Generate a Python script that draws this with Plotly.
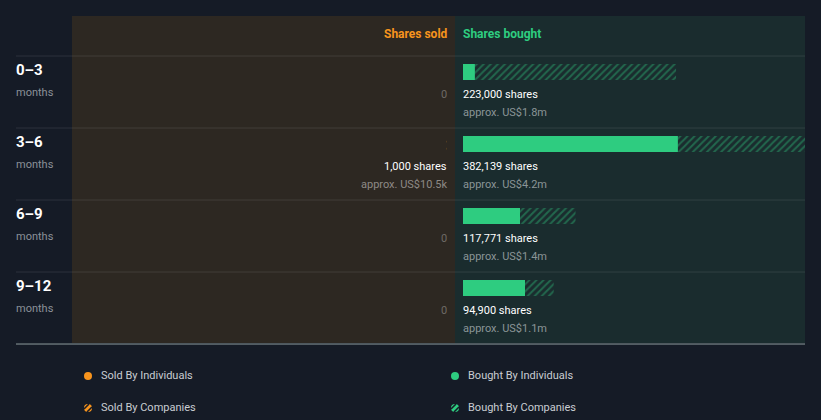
import plotly.graph_objects as go

W, H = 821, 420

periods = ["0–3", "3–6", "6–9", "9–12"]
period_unit = "months"
bought_individuals = [12500, 225000, 59700, 65000]
bought_companies = [210500, 157139, 58071, 29900]
bought_labels = ["223,000 shares", "382,139 shares", "117,771 shares", "94,900 shares"]
bought_values = ["approx. US$1.8m", "approx. US$4.2m", "approx. US$1.4m", "approx. US$1.1m"]
sold_individuals = [0, 0, 0, 0]
sold_companies = [0, 1000, 0, 0]
sold_labels = ["0", "1,000 shares", "0", "0"]
sold_values = ["", "approx. US$10.5k", "", ""]
legend_labels = ["Sold By Individuals", "Bought By Individuals", "Sold By Companies", "Bought By Companies"]

BG = "#151b26"
SOLD_BG = "#2d2822"
BOUGHT_BG = "#1a2c2e"
ORANGE = "#f7941d"
GREEN = "#2ecc80"
GREEN_HATCH = "#2aa36c"
ORANGE_HATCH = "#c47a1c"
FONT = "Roboto"

def px(p):
    return p / W

def py(p):
    return 1 - p / H

idx = list(range(len(periods)))
fig = go.Figure()

# bought bars
fig.add_trace(go.Bar(y=idx, x=bought_individuals, orientation="h", width=0.222,
                     marker=dict(color=GREEN, line=dict(width=0)), xaxis="x", yaxis="y",
                     showlegend=False, hoverinfo="skip"))
fig.add_trace(go.Bar(y=idx, x=bought_companies, base=bought_individuals, orientation="h", width=0.222,
                     marker=dict(color=BOUGHT_BG, line=dict(width=0),
                                 pattern=dict(shape="/", fgcolor=GREEN_HATCH, bgcolor=BOUGHT_BG,
                                              size=5, solidity=0.4)),
                     xaxis="x", yaxis="y", showlegend=False, hoverinfo="skip"))
# sold bars
fig.add_trace(go.Bar(y=idx, x=sold_individuals, orientation="h", width=0.222,
                     marker=dict(color=ORANGE, line=dict(width=0)), xaxis="x2", yaxis="y",
                     showlegend=False, hoverinfo="skip"))
fig.add_trace(go.Bar(y=idx, x=sold_companies, base=sold_individuals, orientation="h", width=0.222,
                     marker=dict(color=SOLD_BG, line=dict(width=0),
                                 pattern=dict(shape="/", fgcolor=ORANGE_HATCH, bgcolor=SOLD_BG,
                                              size=5, solidity=0.15)),
                     xaxis="x2", yaxis="y", showlegend=False, hoverinfo="skip"))

shapes = []
# panels
shapes.append(dict(type="rect", xref="paper", yref="paper", x0=px(72), x1=px(455), y0=py(343), y1=py(16),
                   fillcolor=SOLD_BG, line=dict(width=0), layer="below"))
shapes.append(dict(type="rect", xref="paper", yref="paper", x0=px(455), x1=px(805), y0=py(343), y1=py(16),
                   fillcolor=BOUGHT_BG, line=dict(width=0), layer="below"))
# row separators
for i in range(len(periods) + 1):
    last = i == len(periods)
    shapes.append(dict(type="line", xref="paper", yref="y", x0=px(16), x1=px(805),
                       y0=i - 0.222, y1=i - 0.222,
                       line=dict(color="#8d9a9c" if last else "rgba(255,255,255,0.1)", width=1),
                       layer="above"))

annotations = []
annotations.append(dict(text="<b>Shares sold</b>", xref="paper", yref="paper", x=px(447), y=py(34),
                        xanchor="right", yanchor="middle", showarrow=False, xshift=3,
                        font=dict(family=FONT, size=12, color=ORANGE)))
annotations.append(dict(text="<b>Shares bought</b>", xref="paper", yref="paper", x=px(463), y=py(34),
                        xanchor="left", yanchor="middle", showarrow=False, xshift=-2,
                        font=dict(family=FONT, size=12, color=GREEN)))

for i in idx:
    annotations.append(dict(text="<b>" + periods[i] + "</b>", xref="paper", yref="y", x=px(16), y=i - 0.028,
                            xanchor="left", yanchor="middle", showarrow=False, xshift=-2,
                            font=dict(family=FONT, size=15, color="#ffffff")))
    annotations.append(dict(text=period_unit, xref="paper", yref="y", x=px(16), y=i + 0.278,
                            xanchor="left", yanchor="middle", showarrow=False, xshift=-2,
                            font=dict(family=FONT, size=11, color="#8b9199")))
    annotations.append(dict(text=bought_labels[i], xref="x", yref="y", x=0, y=i + 0.306,
                            xanchor="left", yanchor="middle", showarrow=False, xshift=-2,
                            font=dict(family=FONT, size=11, color="#ffffff")))
    annotations.append(dict(text=bought_values[i], xref="x", yref="y", x=0, y=i + 0.556,
                            xanchor="left", yanchor="middle", showarrow=False, xshift=-2,
                            font=dict(family=FONT, size=11, color="#8a9597")))
    sold_total = sold_individuals[i] + sold_companies[i]
    annotations.append(dict(text=sold_labels[i], xref="x2", yref="y", x=0, y=i + 0.306,
                            xanchor="right", yanchor="middle", showarrow=False, xshift=2,
                            font=dict(family=FONT, size=11, color="#ffffff" if sold_total else "#6e6a66")))
    if sold_values[i]:
        annotations.append(dict(text=sold_values[i], xref="x2", yref="y", x=0, y=i + 0.556,
                                xanchor="right", yanchor="middle", showarrow=False, xshift=2,
                                font=dict(family=FONT, size=11, color="#8e8a86")))

# custom legend
legend_pos = [(84, 376), (451, 376), (84, 408), (451, 408)]
legend_colors = [ORANGE, GREEN, ORANGE, GREEN]
for k, (lx, ly) in enumerate(legend_pos):
    c = legend_colors[k]
    shapes.append(dict(type="circle", xref="paper", yref="paper",
                       x0=px(lx), x1=px(lx + 8), y0=py(ly + 4), y1=py(ly - 4),
                       fillcolor=c, line=dict(width=0)))
    if k >= 2:
        path = (f"M {px(lx)} {py(ly + 1)} L {px(lx + 5)} {py(ly - 4)} "
                f"M {px(lx + 3)} {py(ly + 4)} L {px(lx + 8)} {py(ly - 1)}")
        shapes.append(dict(type="path", xref="paper", yref="paper", path=path,
                           line=dict(color=BG, width=1.6)))
    annotations.append(dict(text=legend_labels[k], xref="paper", yref="paper", x=px(lx + 16), y=py(ly - 1),
                            xanchor="left", yanchor="middle", showarrow=False, xshift=-1,
                            font=dict(family=FONT, size=11, color="#c9cdd2")))

SCALE_BOUGHT = 358000
SCALE_SOLD = 392700

fig.update_layout(
    width=W, height=H,
    margin=dict(l=0, r=0, t=0, b=0),
    paper_bgcolor=BG, plot_bgcolor="rgba(0,0,0,0)",
    barmode="overlay",
    xaxis=dict(domain=[px(463), px(805)], range=[0, SCALE_BOUGHT], visible=False, fixedrange=True),
    xaxis2=dict(domain=[px(72), px(447)], range=[SCALE_SOLD, 0], visible=False, fixedrange=True,
                anchor="y"),
    yaxis=dict(domain=[0, 1], range=[(H - 72) / 72, -1], visible=False, fixedrange=True),
    shapes=shapes, annotations=annotations,
    showlegend=False,
)

fig.write_html("out.html")
